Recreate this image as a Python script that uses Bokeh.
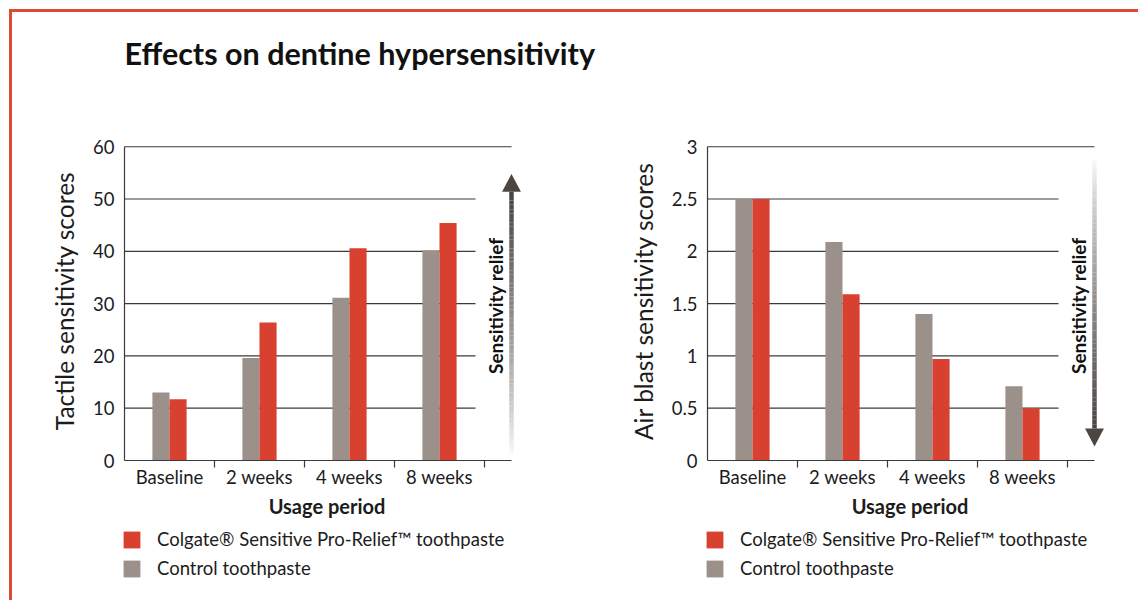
import numpy as np
from bokeh.plotting import figure
from bokeh.models import (Range1d, FixedTicker, Label, Legend, LegendItem,
                          CustomJSTickFormatter, NumeralTickFormatter)
from bokeh.layouts import row, column
from bokeh.embed import file_html
from bokeh.resources import INLINE
from bokeh.core.properties import value

# ---------------- data ----------------
periods = ["Baseline", "2 weeks", "4 weeks", "8 weeks"]
tactile_colgate = [11.7, 26.4, 40.6, 45.4]
tactile_control = [13.0, 19.6, 31.1, 40.2]
air_colgate = [2.5, 1.59, 0.97, 0.50]
air_control = [2.5, 2.09, 1.40, 0.71]
tactile_ticks = [0, 10, 20, 30, 40, 50, 60]
air_ticks = [0, 0.5, 1, 1.5, 2, 2.5, 3]
series_names = ["Colgate\u00ae Sensitive Pro-Relief\u2122 toothpaste", "Control toothpaste"]
title_text = "Effects on dentine hypersensitivity"

RED = "#d8402f"
GREY = "#9c908b"
INK = "#1c1c1c"
LINE = "#3a3a3a"
FONT = "Lato"

centers = [i + 0.5 for i in range(len(periods))]
bar_w = 0.19


def bare(width, height):
    p = figure(width=width, height=height, output_backend="svg", toolbar_location=None,
               x_range=Range1d(0, width), y_range=Range1d(0, height), title=None,
               x_axis_type=None, y_axis_type=None, min_border=0)
    p.outline_line_color = None
    p.background_fill_color = None
    p.border_fill_color = None
    p.xgrid.visible = False
    p.ygrid.visible = False
    return p


def make_chart(colgate, control, ticks, ylabel, arrow_up, width, left_border, right_border):
    top = ticks[-1]
    p = figure(width=width, height=422, output_backend="svg", toolbar_location=None,
               x_range=Range1d(0, 4.5), y_range=Range1d(0, top * 61 / 60),
               min_border_left=left_border, min_border_right=right_border,
               min_border_top=41, min_border_bottom=62)
    p.outline_line_color = None
    p.background_fill_color = None
    p.border_fill_color = None
    p.xgrid.visible = False
    p.ygrid.visible = False

    # grid lines (from the tick list)
    inner = ticks[1:-1]
    p.segment(x0=[0] * len(inner), x1=[3.9] * len(inner), y0=inner, y1=inner,
              line_color=LINE, line_width=1.2)
    p.segment(x0=[0], x1=[4.3], y0=[top], y1=[top], line_color=LINE, line_width=1.2)

    xs_ctrl = [c - bar_w / 2 for c in centers]
    xs_col = [c + bar_w / 2 for c in centers]
    p.vbar(x=xs_ctrl, top=control, bottom=0, width=bar_w, fill_color=GREY, line_color=None)
    p.vbar(x=xs_col, top=colgate, bottom=0, width=bar_w, fill_color=RED, line_color=None)

    # x axis
    xa = p.xaxis[0]
    xa.ticker = FixedTicker(ticks=centers, minor_ticks=[1, 2, 3, 4])
    xa.formatter = CustomJSTickFormatter(args=dict(labels=periods),
                                         code="return labels[Math.floor(tick)] || ''")
    xa.bounds = (0, 4.3)
    xa.major_tick_line_color = None
    xa.major_tick_out = 0
    xa.major_tick_in = 0
    xa.minor_tick_out = 7
    xa.minor_tick_in = 0
    xa.minor_tick_line_color = LINE
    xa.minor_tick_line_width = 1.2
    xa.axis_line_color = LINE
    xa.axis_line_width = 1.2
    xa.major_label_text_font = FONT
    xa.major_label_text_font_size = "18.5px"
    xa.major_label_text_color = INK
    xa.major_label_standoff = -2
    xa.axis_label = "Usage period"
    xa.axis_label_text_font = FONT
    xa.axis_label_text_font_style = "bold"
    xa.axis_label_text_font_size = "20px"
    xa.axis_label_text_color = INK
    xa.axis_label_standoff = 3

    # y axis
    ya = p.yaxis[0]
    ya.ticker = FixedTicker(ticks=ticks)
    ya.formatter = NumeralTickFormatter(format="0.[0]")
    ya.bounds = (0, top)
    ya.major_tick_line_color = None
    ya.minor_tick_line_color = None
    ya.major_tick_out = 0
    ya.major_tick_in = 0
    ya.axis_line_color = LINE
    ya.axis_line_width = 1.2
    ya.major_label_text_font = FONT
    ya.major_label_text_font_size = "18.5px"
    ya.major_label_text_color = INK
    ya.major_label_standoff = 10
    ya.axis_label = ylabel
    ya.axis_label_text_font = FONT
    ya.axis_label_text_font_style = "normal"
    ya.axis_label_text_font_size = "24.5px"
    ya.axis_label_text_color = INK
    ya.axis_label_standoff = 11

    # gradient arrow "Sensitivity relief"
    ax = 4.3
    u = top / 60.0
    n = 60
    dark = np.array([74, 68, 65])
    light = np.array([252, 251, 250])
    if arrow_up:
        y_tail, y_base, y_tip = 1.3 * u, 51.4 * u, 54.8 * u
    else:
        y_tail, y_base, y_tip = 57.3 * u, 6.1 * u, 2.7 * u
    edges = np.linspace(y_tail, y_base, n + 1)
    cols = []
    for i in range(n):
        t = ((i + 0.5) / n) ** 0.8
        c = light + (dark - light) * t
        cols.append("#%02x%02x%02x" % tuple(int(round(v)) for v in c))
    p.segment(x0=[ax] * n, x1=[ax] * n, y0=list(edges[:-1]), y1=list(edges[1:]),
              line_color=cols, line_width=4.5, line_cap="butt")
    hw = 0.105
    p.patch(x=[ax - hw, ax + hw, ax], y=[y_base, y_base, y_tip], fill_color="#4c4643", line_color=None)
    p.text(x=[4.12], y=[29.6 * u], text=["Sensitivity relief"], angle=np.pi / 2,
           text_align="center", text_baseline="middle", text_font=value(FONT),
           text_font_style="bold", text_font_size="19px", text_color="#111111")
    return p


def make_legend(width, left):
    p = bare(width, 78)
    # key-only renderers (hidden, zero height) that give the legend its swatches
    r_col = p.vbar(x=[0], top=[0], bottom=[0], width=0, fill_color=RED, line_color=None, visible=False)
    r_ctrl = p.vbar(x=[0], top=[0], bottom=[0], width=0, fill_color=GREY, line_color=None, visible=False)
    legend = Legend(items=[LegendItem(label=series_names[0], renderers=[r_col]),
                           LegendItem(label=series_names[1], renderers=[r_ctrl])],
                    location=(left - 3, 21), orientation="vertical",
                    glyph_width=21, glyph_height=21, label_height=21, spacing=7,
                    padding=0, margin=0, border_line_color=None, background_fill_alpha=0,
                    inactive_fill_alpha=0,
                    label_standoff=15, label_text_font=FONT, label_text_font_size="18.5px",
                    label_text_color=INK, label_text_baseline="middle")
    p.add_layout(legend, "center")
    return p


title_fig = bare(1126, 88)
title_fig.add_layout(Label(x=112, y=48, x_units="screen", y_units="screen", text=title_text,
                           text_font=FONT, text_font_style="bold",
                           text_font_size="30.5px", text_color="#111111",
                           text_baseline="alphabetic"))

p1 = make_chart(tactile_colgate, tactile_control, tactile_ticks, "Tactile sensitivity scores",
                True, 612, 112, 95)
p2 = make_chart(air_colgate, air_control, air_ticks, "Air blast sensitivity scores",
                False, 510, 83, 22)
l1 = make_legend(612, 112)
l2 = make_legend(510, 83)

layout = column(title_fig, row(p1, p2), row(l1, l2), margin=(9, 0, 0, 9),
                styles={"border-top": "3px solid #de4a38", "border-left": "3px solid #de4a38"})

open("out.html", "w").write(file_html(layout, INLINE))
